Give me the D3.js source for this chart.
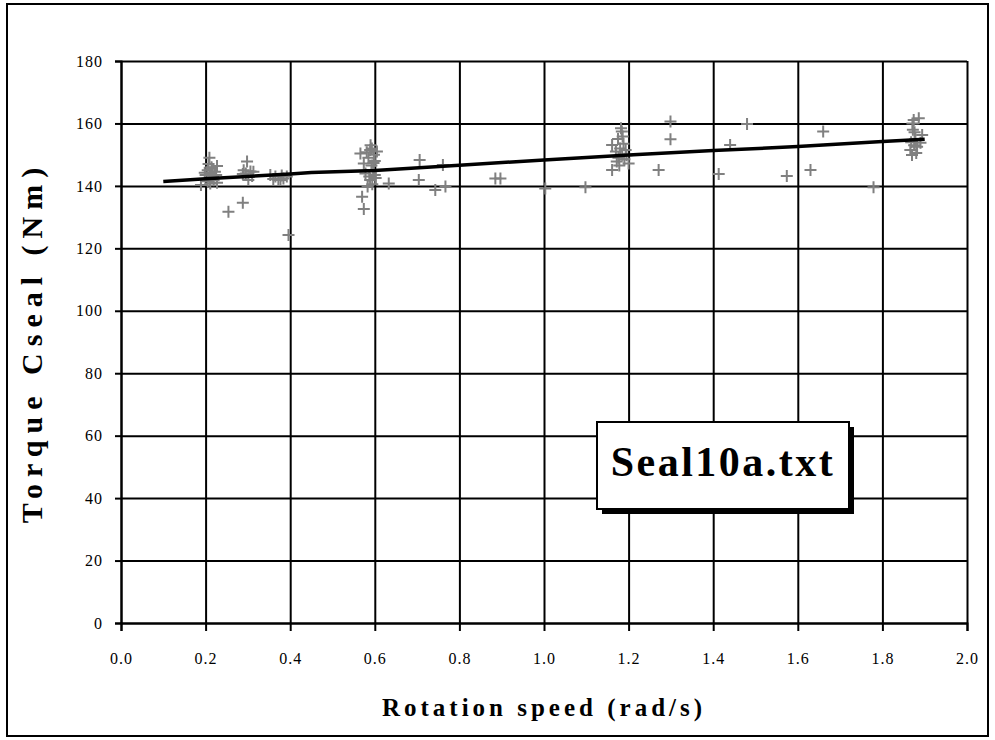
<!DOCTYPE html>
<html>
<head>
<meta charset="utf-8">
<script src="https://cdn.jsdelivr.net/npm/d3@7"></script>
<style>
  body { margin: 0; background: #fff; }
  svg { display: block; font-family: "Liberation Serif", "Times New Roman", serif; }
</style>
</head>
<body>
<svg id="chart" width="995" height="740"></svg>
<script>
// measured points, grouped by speed level
const speeds = [
  0.209, 0.227, 0.189, 0.227, 0.205, 0.212, 0.218, 0.200, 0.215, 0.210, 0.222, 0.205, 0.214, 0.198, 0.219, 0.207, 0.225, 0.211,
  0.298, 0.290, 0.306, 0.301, 0.313, 0.295, 0.310, 0.288,
  0.353, 0.365, 0.377, 0.384, 0.372, 0.392, 0.360, 0.380,
  0.254, 0.288, 0.396,
  0.566, 0.593, 0.574, 0.578, 0.589, 0.570, 0.574, 0.633, 0.589, 0.598, 0.585, 0.600, 0.592, 0.596, 0.587, 0.602, 0.594, 0.583, 0.605, 0.590, 0.581, 0.597, 0.600,
  0.706, 0.704, 0.761, 0.743, 0.767, 0.885, 0.897, 1.003, 1.098,
  1.161, 1.161, 1.200, 1.184, 1.180, 1.175, 1.185, 1.190, 1.178, 1.188, 1.170, 1.193, 1.182, 1.176, 1.186, 1.195, 1.172,
  1.271, 1.299, 1.299, 1.413, 1.440, 1.480, 1.660, 1.630, 1.574, 1.779,
  1.874, 1.886, 1.894, 1.866, 1.870, 1.872, 1.878, 1.868, 1.882, 1.876, 1.880, 1.871, 1.890, 1.875
]
const torques = [
  149.0, 146.4, 140.3, 141.0, 145.0, 144.0, 143.0, 143.5, 145.5, 142.0, 144.5, 141.5, 146.0, 144.2, 141.8, 147.0, 143.5, 140.8,
  147.8, 145.0, 144.6, 141.9, 144.5, 144.0, 143.2, 143.8,
  143.5, 143.0, 141.9, 142.4, 141.9, 143.0, 142.2, 143.3,
  131.7, 134.6, 124.3,
  150.4, 152.0, 147.2, 144.0, 141.9, 136.5, 132.6, 140.8, 151.5, 150.0, 149.0, 148.0, 146.5, 145.0, 143.0, 142.5, 140.5, 139.8, 151.0, 153.0, 150.8, 147.3, 143.5,
  148.3, 141.9, 146.7, 138.7, 139.8, 142.4, 142.4, 139.2, 139.6,
  153.1, 145.1, 147.2, 157.4, 152.0, 155.0, 150.0, 148.5, 146.5, 153.5, 151.0, 151.5, 158.5, 149.0, 155.8, 149.8, 147.8,
  145.1, 160.6, 154.9, 143.8, 153.1, 159.8, 157.4, 145.1, 143.2, 139.6,
  161.1, 161.7, 156.3, 151.5, 149.9, 158.0, 155.0, 154.0, 152.5, 157.2, 150.5, 160.0, 153.8, 153.0
]

// fitted curve
const fitSpeeds = [0.1, 0.2, 0.4, 0.45, 0.6, 0.8, 1.0, 1.2, 1.4, 1.6, 1.8, 1.9]
const fitTorques = [141.4, 142.3, 143.8, 144.3, 144.9, 146.6, 148.3, 149.9, 151.3, 152.6, 154.2, 154.9]

const xTicks = [0, 0.2, 0.4, 0.6, 0.8, 1.0, 1.2, 1.4, 1.6, 1.8, 2.0]
const yTicks = [0, 20, 40, 60, 80, 100, 120, 140, 160, 180]

const svg = d3.select('#chart')
const W = 995, H = 740
const margin = { top: 61, right: 28, bottom: 117, left: 121 }
const innerW = W - margin.left - margin.right
const innerH = H - margin.top - margin.bottom

// outer frame
svg.append('rect')
  .attr('x', 7).attr('y', 4)
  .attr('width', 981).attr('height', 732)
  .attr('fill', 'none').attr('stroke', '#000').attr('stroke-width', 2)

const g = svg.append('g').attr('transform', `translate(${margin.left},${margin.top})`)

const x = d3.scaleLinear().domain([0, 2]).range([0, innerW])
const y = d3.scaleLinear().domain([0, 180]).range([innerH, 0])

// grid
g.append('g')
  .attr('transform', `translate(0,${innerH})`)
  .call(d3.axisBottom(x).tickValues(xTicks).tickSize(-innerH).tickFormat(''))
  .call(a => a.select('.domain').remove())
  .selectAll('line').attr('stroke', '#000').attr('stroke-width', 2)
g.append('g')
  .call(d3.axisLeft(y).tickValues(yTicks).tickSize(-innerW).tickFormat(''))
  .call(a => a.select('.domain').remove())
  .selectAll('line').attr('stroke', '#000').attr('stroke-width', 2)

// axes with outward ticks and labels
const xAxis = g.append('g')
  .attr('transform', `translate(0,${innerH})`)
  .call(d3.axisBottom(x).tickValues(xTicks).tickSize(8).tickPadding(22).tickFormat(d3.format('.1f')))
xAxis.select('.domain').attr('stroke', '#000').attr('stroke-width', 2)
xAxis.selectAll('line').attr('stroke', '#000').attr('stroke-width', 2)
xAxis.selectAll('text')
  .attr('font-size', 16).attr('letter-spacing', 1).attr('fill', '#000')
  .attr('font-family', '"Liberation Serif", "Times New Roman", serif')

const yAxis = g.append('g')
  .call(d3.axisLeft(y).tickValues(yTicks).tickSize(6).tickPadding(12))
yAxis.select('.domain').attr('stroke', '#000').attr('stroke-width', 2)
yAxis.selectAll('line').attr('stroke', '#000').attr('stroke-width', 2)
yAxis.selectAll('text')
  .attr('font-size', 16).attr('letter-spacing', 1).attr('fill', '#000')
  .attr('font-family', '"Liberation Serif", "Times New Roman", serif')

// scatter crosses
const arm = 6
const pts = g.append('g').attr('stroke', '#808080').attr('stroke-width', 2)
pts.selectAll('path')
  .data(d3.range(speeds.length))
  .join('path')
  .attr('d', i => {
    const px = x(speeds[i]), py = y(torques[i])
    return `M${px - arm},${py}H${px + arm}M${px},${py - arm}V${py + arm}`
  })

// fit line
const line = d3.line()
  .x(i => x(fitSpeeds[i]))
  .y(i => y(fitTorques[i]))
g.append('path')
  .attr('d', line(d3.range(fitSpeeds.length)))
  .attr('fill', 'none').attr('stroke', '#000').attr('stroke-width', 3.5)

// axis titles
svg.append('text')
  .attr('x', margin.left + innerW / 2).attr('y', 716)
  .attr('text-anchor', 'middle')
  .attr('font-size', 25).attr('font-weight', 'bold').attr('letter-spacing', 4)
  .text('Rotation speed (rad/s)')

svg.append('text')
  .attr('transform', `translate(42,${margin.top + innerH / 2}) rotate(-90)`)
  .attr('text-anchor', 'middle')
  .attr('font-size', 30).attr('font-weight', 'bold').attr('letter-spacing', 7)
  .text('Torque Cseal (Nm)')

// label box with shadow
const box = { x: 597, y: 422, w: 252, h: 87 }
svg.append('rect')
  .attr('x', box.x + 5).attr('y', box.y + 5)
  .attr('width', box.w).attr('height', box.h)
  .attr('fill', '#000')
svg.append('rect')
  .attr('x', box.x).attr('y', box.y)
  .attr('width', box.w).attr('height', box.h)
  .attr('fill', '#fff').attr('stroke', '#000').attr('stroke-width', 2)
svg.append('text')
  .attr('x', box.x + box.w / 2).attr('y', 476)
  .attr('text-anchor', 'middle')
  .attr('font-size', 42).attr('font-weight', 'bold').attr('letter-spacing', 2.5)
  .text('Seal10a.txt')
</script>
</body>
</html>
